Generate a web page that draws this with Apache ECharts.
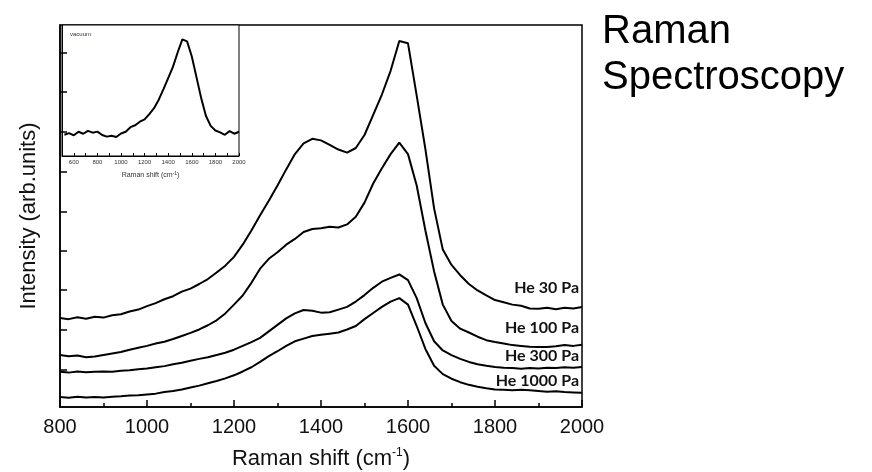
<!DOCTYPE html>
<html>
<head>
<meta charset="utf-8">
<script src="https://cdn.jsdelivr.net/npm/echarts@6/dist/echarts.min.js"></script>
<style>html,body{margin:0;padding:0;background:#fff}#c{width:872px;height:472px}</style>
</head>
<body>
<div id="c"></div>
<script>
// Raman shift (cm-1) sampling for main curves
const shift = [800,820,840,860,880,900,920,940,960,980,1000,1020,1040,1060,1080,1100,1120,1140,1160,1180,1200,1220,1240,1260,1280,1300,1320,1340,1360,1380,1400,1420,1440,1460,1480,1500,1520,1540,1560,1580,1600,1620,1640,1660,1680,1700,1720,1740,1760,1780,1800,1820,1840,1860,1880,1900,1920,1940,1960,1980,2000];
const he30 = [2.33,2.30,2.35,2.31,2.36,2.34,2.40,2.43,2.50,2.55,2.64,2.72,2.82,2.90,3.02,3.10,3.22,3.35,3.52,3.70,3.93,4.25,4.62,5.02,5.40,5.80,6.22,6.62,6.90,7.02,6.98,6.86,6.74,6.66,6.78,7.12,7.65,8.18,8.80,9.58,9.52,8.15,6.75,5.20,4.12,3.72,3.45,3.22,3.05,2.92,2.80,2.74,2.68,2.65,2.58,2.57,2.60,2.56,2.60,2.58,2.62];
const he100 = [1.36,1.33,1.35,1.30,1.32,1.36,1.40,1.44,1.50,1.55,1.60,1.66,1.71,1.78,1.86,1.94,2.03,2.14,2.27,2.45,2.68,2.92,3.25,3.62,3.88,4.05,4.25,4.40,4.58,4.66,4.68,4.72,4.70,4.78,4.98,5.35,5.85,6.25,6.62,6.92,6.62,5.80,4.62,3.55,2.68,2.25,2.05,1.95,1.84,1.75,1.70,1.66,1.62,1.60,1.58,1.57,1.57,1.59,1.62,1.60,1.63];
const he300 = [0.92,0.90,0.93,0.91,0.92,0.93,0.92,0.95,0.96,0.99,1.01,1.04,1.07,1.12,1.16,1.21,1.26,1.30,1.36,1.42,1.50,1.60,1.70,1.81,1.98,2.15,2.32,2.45,2.54,2.52,2.47,2.48,2.55,2.62,2.76,2.93,3.12,3.28,3.38,3.47,3.32,2.85,2.20,1.72,1.48,1.36,1.26,1.18,1.12,1.08,1.05,1.03,1.02,1.00,1.02,1.01,1.03,1.02,1.04,1.03,1.05];
const he1000 = [0.26,0.24,0.27,0.25,0.26,0.25,0.27,0.28,0.30,0.31,0.33,0.35,0.39,0.42,0.46,0.51,0.56,0.62,0.68,0.75,0.83,0.93,1.04,1.18,1.33,1.46,1.60,1.72,1.79,1.86,1.89,1.92,1.95,2.03,2.12,2.30,2.46,2.62,2.76,2.85,2.68,2.12,1.52,1.08,0.86,0.74,0.65,0.58,0.53,0.49,0.46,0.45,0.44,0.45,0.44,0.42,0.40,0.41,0.39,0.38,0.37];
const seriesNames = ['He 30 Pa','He 100 Pa','He 300 Pa','He 1000 Pa'];

// inset (vacuum)
const insetShift = [520,560,600,640,680,720,760,800,840,880,920,960,1000,1040,1080,1120,1160,1200,1240,1280,1320,1360,1400,1440,1480,1520,1560,1600,1640,1680,1720,1760,1800,1840,1880,1920,1960,2000];
const vacuum = [1.62,1.75,1.58,1.85,1.70,1.92,1.78,1.86,1.60,1.48,1.55,1.45,1.72,1.85,2.20,2.35,2.62,2.80,3.20,3.65,4.30,5.10,5.95,6.80,7.90,8.90,8.75,7.60,6.00,4.40,3.05,2.30,1.95,1.80,1.62,1.90,1.70,1.85];

// tick positions
const xTickInterval = 200;
const yTickValues = [0.97,2.02,3.06,4.08,5.10,6.15,7.20,8.25,9.27];
const insetTickInterval = 100;

const chart = echarts.init(document.getElementById('c'), null, {renderer:'canvas'});
const pair = (xs, ys) => xs.map((x,i)=>[x, ys[i]]);
const mainData = [he30, he100, he300, he1000];
const labelY = [288, 328, 356, 381];

const lineSeries = mainData.map((d,i)=>({
  name: seriesNames[i], type:'line', xAxisIndex:0, yAxisIndex:0,
  data: pair(shift, d), showSymbol:false, symbol:'none',
  lineStyle:{color:'#000', width:2}, silent:true, animation:false
}));
lineSeries.push({
  name:'vacuum', type:'line', xAxisIndex:1, yAxisIndex:1,
  data: pair(insetShift, vacuum), showSymbol:false, symbol:'none',
  lineStyle:{color:'#000', width:2}, silent:true, animation:false
});

const supRich = {sup:{fontSize:12, padding:[0,0,11,0], fontFamily:'Liberation Sans, Arial', color:'#111'}};
const supRichSmall = {sup:{fontSize:5, padding:[0,0,4,0], fontFamily:'Liberation Sans, Arial', color:'#333'}};

chart.setOption({
  animation:false,
  backgroundColor:'#fff',
  title:{text:'Raman\nSpectroscopy', left:597, top:4,
    textStyle:{fontFamily:'Liberation Sans, Arial', fontSize:40, fontWeight:'normal', color:'#000', lineHeight:46}},
  grid:[
    {left:60, top:25, width:522, height:382, show:true, borderColor:'#000', borderWidth:1.5, backgroundColor:'transparent', containLabel:false, outerBoundsMode:'none'},
    {left:62, top:25, width:177, height:131, show:true, borderColor:'#000', borderWidth:1, backgroundColor:'#fff', containLabel:false, outerBoundsMode:'none'}
  ],
  xAxis:[
    {type:'value', gridIndex:0, min:800, max:2000, interval:xTickInterval,
     axisLine:{show:true, lineStyle:{color:'#000', width:1.5}},
     axisTick:{show:true, inside:true, length:7, lineStyle:{color:'#000', width:1.5}},
     minorTick:{show:true, splitNumber:2, length:4, lineStyle:{color:'#000', width:1.5}},
     splitLine:{show:false},
     axisLabel:{fontFamily:'Liberation Sans, Arial', fontSize:20, color:'#111', margin:10, formatter:(v)=>String(v)},
     name:'Raman shift (cm{sup|-1})', nameLocation:'middle', nameGap:40,
     nameTextStyle:{fontFamily:'Liberation Sans, Arial', fontSize:22, color:'#111', rich:supRich}},
    {type:'value', gridIndex:1, min:500, max:2000, interval:insetTickInterval,
     axisLine:{show:true, lineStyle:{color:'#000', width:1}},
     axisTick:{show:true, inside:true, length:3, lineStyle:{color:'#000', width:1}},
     splitLine:{show:false},
     axisLabel:{fontFamily:'Liberation Sans, Arial', fontSize:6, color:'#333', margin:3,
       formatter:(v)=> (v % 200 === 0 ? String(v) : '')},
     name:'Raman shift (cm{sup|-1})', nameLocation:'middle', nameGap:15,
     nameTextStyle:{fontFamily:'Liberation Sans, Arial', fontSize:7, color:'#333', rich:supRichSmall}}
  ],
  yAxis:[
    {type:'value', gridIndex:0, min:0, max:10,
     axisLine:{show:true, lineStyle:{color:'#000', width:1.5}},
     axisTick:{show:true, inside:true, length:7, customValues:yTickValues, lineStyle:{color:'#000', width:1.5}},
     axisLabel:{show:false}, splitLine:{show:false},
     name:'Intensity (arb.units)', nameLocation:'middle', nameGap:20,
     nameTextStyle:{fontFamily:'Liberation Sans, Arial', fontSize:22, color:'#111'}},
    {type:'value', gridIndex:1, min:0, max:10,
     axisLine:{show:true, lineStyle:{color:'#000', width:1}},
     axisTick:{show:false}, axisLabel:{show:false}, splitLine:{show:false}}
  ],
  graphic:[
    ...seriesNames.map((n,i)=>({type:'text', z:100, style:{text:n, x:579, y:labelY[i], align:'right', verticalAlign:'middle',
       font:'bold 16px Lato, "Open Sans", sans-serif', fill:'#111'}})),
    {type:'text', z:100, style:{text:'vacuum', x:70, y:34, align:'left', verticalAlign:'middle',
       font:'6px "Liberation Sans", Arial', fill:'#334'}}
  ],
  series: lineSeries
});
</script>
</body>
</html>
